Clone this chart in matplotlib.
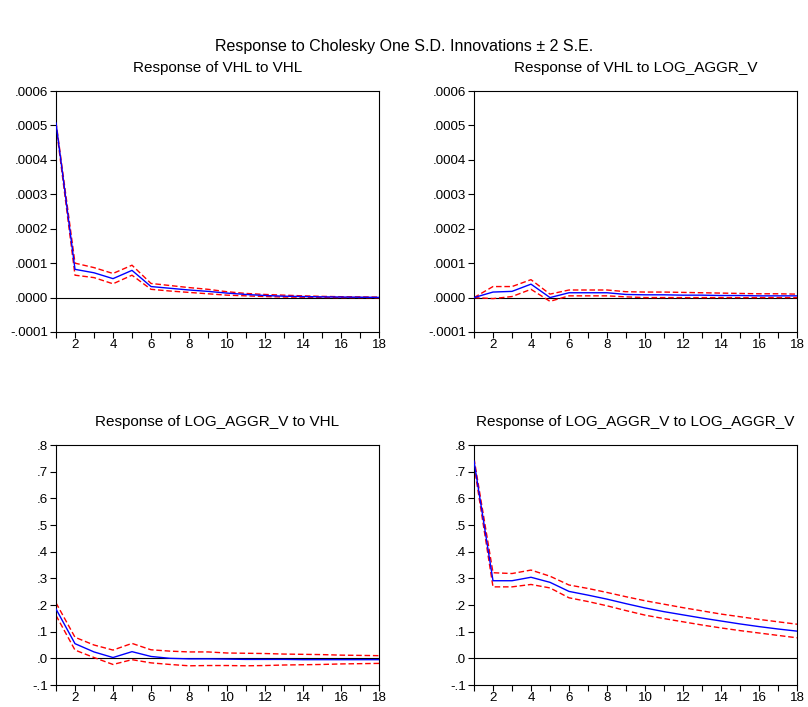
import matplotlib
matplotlib.use('Agg')
import matplotlib.pyplot as plt
from matplotlib.ticker import FuncFormatter, MultipleLocator

plt.rcParams['font.family'] = ['Liberation Sans', 'DejaVu Sans']

periods = list(range(1, 19))

# Response of VHL to VHL
vhl_vhl = [0.000507, 0.000082, 0.000072, 0.000055, 0.000079, 0.000032, 0.000027, 0.000022,
           0.000018, 0.000013, 0.000009, 0.000006, 0.000004, 0.000003, 0.000002, 0.0000015,
           0.000001, 0.0000005]
vhl_vhl_up = [0.000510, 0.000100, 0.000087, 0.000070, 0.000094, 0.000041, 0.000035, 0.000029,
              0.000024, 0.000017, 0.000012, 0.000009, 0.000007, 0.000005, 0.0000035, 0.0000025,
              0.000002, 0.0000015]
vhl_vhl_lo = [0.000500, 0.000065, 0.000058, 0.000040, 0.000065, 0.000024, 0.000019, 0.000015,
              0.000011, 0.000007, 0.000005, 0.000003, 0.0000015, 0.000001, 0.0000005, 0.0,
              0.0, -0.0000005]

# Response of VHL to LOG_AGGR_V
vhl_log = [0.0, 0.000016, 0.000018, 0.000039, 0.0, 0.000014, 0.000014, 0.000014,
           0.000009, 0.000008, 0.000008, 0.000007, 0.000007, 0.000006, 0.000006, 0.000005,
           0.000005, 0.000005]
vhl_log_up = [0.0, 0.000032, 0.000032, 0.000052, 0.000010, 0.000022, 0.000022, 0.000022,
              0.000017, 0.000016, 0.000016, 0.000015, 0.000014, 0.000013, 0.000012, 0.000011,
              0.000011, 0.000010]
vhl_log_lo = [0.0, -0.000003, 0.000003, 0.000024, -0.000011, 0.000005, 0.000005, 0.000005,
              0.000002, 0.0, 0.0, 0.0, 0.0, 0.0, 0.0, 0.0, 0.0, 0.0]

# Response of LOG_AGGR_V to VHL
log_vhl = [0.185, 0.055, 0.024, 0.003, 0.025, 0.007, 0.0, -0.002, -0.002, -0.003,
           -0.004, -0.004, -0.004, -0.005, -0.005, -0.005, -0.005, -0.005]
log_vhl_up = [0.208, 0.079, 0.050, 0.031, 0.056, 0.032, 0.027, 0.024, 0.024, 0.020,
              0.019, 0.018, 0.016, 0.015, 0.014, 0.012, 0.011, 0.010]
log_vhl_lo = [0.161, 0.031, 0.003, -0.023, -0.005, -0.017, -0.023, -0.028, -0.027, -0.027,
              -0.028, -0.027, -0.025, -0.024, -0.023, -0.021, -0.020, -0.019]

# Response of LOG_AGGR_V to LOG_AGGR_V
log_log = [0.740, 0.291, 0.291, 0.304, 0.285, 0.251, 0.237, 0.222, 0.205, 0.189,
           0.175, 0.163, 0.151, 0.140, 0.129, 0.119, 0.110, 0.102]
log_log_up = [0.750, 0.321, 0.318, 0.331, 0.308, 0.275, 0.262, 0.247, 0.231, 0.216,
              0.203, 0.190, 0.178, 0.166, 0.156, 0.146, 0.137, 0.128]
log_log_lo = [0.725, 0.268, 0.268, 0.277, 0.264, 0.227, 0.213, 0.197, 0.179, 0.162,
              0.149, 0.137, 0.125, 0.114, 0.104, 0.095, 0.086, 0.077]

titles = ['Response of VHL to VHL', 'Response of VHL to LOG_AGGR_V',
          'Response of LOG_AGGR_V to VHL', 'Response of LOG_AGGR_V to LOG_AGGR_V']


def eviews_fmt(v, pos, digits):
    s = '%.*f' % (digits, v)
    if s.startswith('0.'):
        s = s[1:]
    elif s.startswith('-0.'):
        s = '-' + s[2:]
    return s


def draw_panel(ax, mid, up, lo, title, ylim, step, digits):
    ax.axhline(0, color='black', linewidth=0.8, zorder=1)
    ax.plot(periods, mid, color='#0000ff', linewidth=1.0, zorder=3)
    ax.plot(periods, up, color='#ff0000', linewidth=1.0, linestyle=(0, (4, 2)), zorder=2)
    ax.plot(periods, lo, color='#ff0000', linewidth=1.0, linestyle=(0, (4, 2)), zorder=2)
    ax.set_xlim(1, 18)
    ax.set_ylim(*ylim)
    ax.set_xticks(periods)
    ax.set_xticklabels([str(p) if p % 2 == 0 else '' for p in periods])
    ax.yaxis.set_major_locator(MultipleLocator(step))
    ax.yaxis.set_major_formatter(FuncFormatter(lambda v, p: eviews_fmt(v, p, digits)))
    ax.tick_params(direction='out', length=4, width=0.8, labelsize=9.6, pad=1.5,
                   top=False, right=False)
    ax.tick_params(axis='x', pad=1)
    for sp in ax.spines.values():
        sp.set_linewidth(0.8)
    ax.set_title(title, fontsize=11, pad=14)


fig = plt.figure(figsize=(8.08, 7.07), dpi=100)
fig.suptitle('Response to Cholesky One S.D. Innovations \u00b1 2 S.E.', fontsize=11.5,
             y=1 - 47 / 707, va='center')

ax1 = fig.add_axes([56 / 808, 1 - 332 / 707, 323 / 808, 241 / 707])
ax2 = fig.add_axes([474 / 808, 1 - 332 / 707, 323 / 808, 241 / 707])
ax3 = fig.add_axes([56 / 808, 1 - 685 / 707, 323 / 808, 240 / 707])
ax4 = fig.add_axes([474 / 808, 1 - 685 / 707, 323 / 808, 240 / 707])

draw_panel(ax1, vhl_vhl, vhl_vhl_up, vhl_vhl_lo, titles[0], (-0.0001, 0.0006), 0.0001, 4)
draw_panel(ax2, vhl_log, vhl_log_up, vhl_log_lo, titles[1], (-0.0001, 0.0006), 0.0001, 4)
draw_panel(ax3, log_vhl, log_vhl_up, log_vhl_lo, titles[2], (-0.1, 0.8), 0.1, 1)
draw_panel(ax4, log_log, log_log_up, log_log_lo, titles[3], (-0.1, 0.8), 0.1, 1)

fig.savefig('out.png', dpi=100)
